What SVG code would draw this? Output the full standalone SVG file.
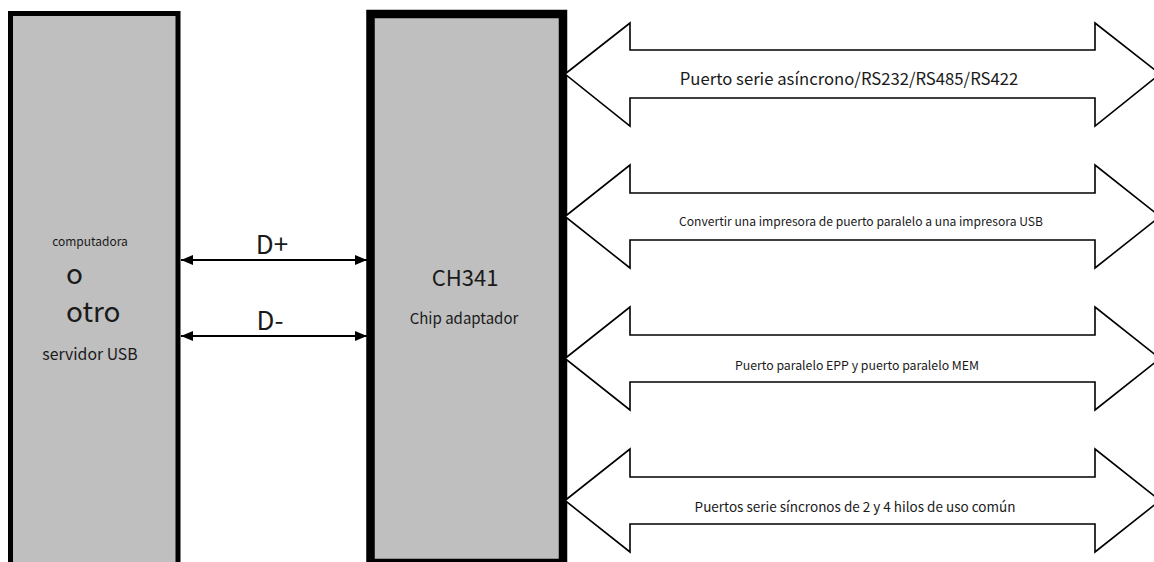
<svg xmlns="http://www.w3.org/2000/svg" width="1154" height="562" viewBox="0 0 1154 562">
<defs>
<style>
.box{fill:#bfbfbf;stroke:#000}
.t{font-family:"Noto Sans CJK SC","Noto Sans",sans-serif;fill:#1a1a1a}
.m{text-anchor:middle}
.bus{fill:#fff;stroke:#000;stroke-width:1.6;stroke-linejoin:miter}
.line{stroke:#000;stroke-width:2;fill:none}
</style>
<marker id="ah" viewBox="0 0 12 10" refX="12" refY="5" markerWidth="12" markerHeight="10" markerUnits="userSpaceOnUse" orient="auto-start-reverse">
<path d="M0,0 L12,5 L0,10 z" fill="#000"/>
</marker>
</defs>
<rect width="1154" height="562" fill="#fff"/>
<g id="host">
<rect class="box" x="10.5" y="13.5" width="167.5" height="570" stroke-width="5"/>
<text class="t m" x="90" y="246" font-size="12">computadora</text>
<text class="t" x="66" y="284" font-size="28">o</text>
<text class="t" x="66" y="322" font-size="28">otro</text>
<text class="t m" x="90" y="360" font-size="15.8">servidor USB</text>
</g>
<g id="ch341">
<rect class="box" x="370.5" y="14" width="192.5" height="549" stroke-width="8.5"/>
<text class="t m" x="465" y="286" font-size="22">CH341</text>
<text class="t m" x="464" y="324" font-size="15">Chip adaptador</text>
</g>
<g id="connectors">
<line class="line" x1="181" y1="260" x2="367" y2="260" marker-start="url(#ah)" marker-end="url(#ah)"/>
<line class="line" x1="181" y1="336" x2="367" y2="336" marker-start="url(#ah)" marker-end="url(#ah)"/>
<text class="t m" x="272" y="254" font-size="26">D+</text>
<text class="t m" x="270" y="330" font-size="26">D-</text>
</g>
<g id="bus1">
<path class="bus" d="M565,74 L630,23 L630,50 L1095,50 L1095,23 L1160,74 L1095,126 L1095,98 L630,98 L630,126 Z"/>
<text class="t m" x="849" y="85" font-size="16.7">Puerto serie asíncrono/RS232/RS485/RS422</text>
</g>
<g id="bus2">
<path class="bus" d="M565,216.5 L630,165 L630,193 L1095,193 L1095,165 L1160,216.5 L1095,268 L1095,240 L630,240 L630,268 Z"/>
<text class="t m" x="861" y="226" font-size="12.1">Convertir una impresora de puerto paralelo a una impresora USB</text>
</g>
<g id="bus3">
<path class="bus" d="M565,358.5 L630,307 L630,335 L1095,335 L1095,307 L1160,358.5 L1095,410 L1095,382 L630,382 L630,410 Z"/>
<text class="t m" x="857" y="370" font-size="12.3">Puerto paralelo EPP y puerto paralelo MEM</text>
</g>
<g id="bus4">
<path class="bus" d="M565,500.5 L630,449 L630,477 L1095,477 L1095,449 L1160,500.5 L1095,552 L1095,524 L630,524 L630,552 Z"/>
<text class="t m" x="855" y="512" font-size="13.5">Puertos serie síncronos de 2 y 4 hilos de uso común</text>
</g>
</svg>
